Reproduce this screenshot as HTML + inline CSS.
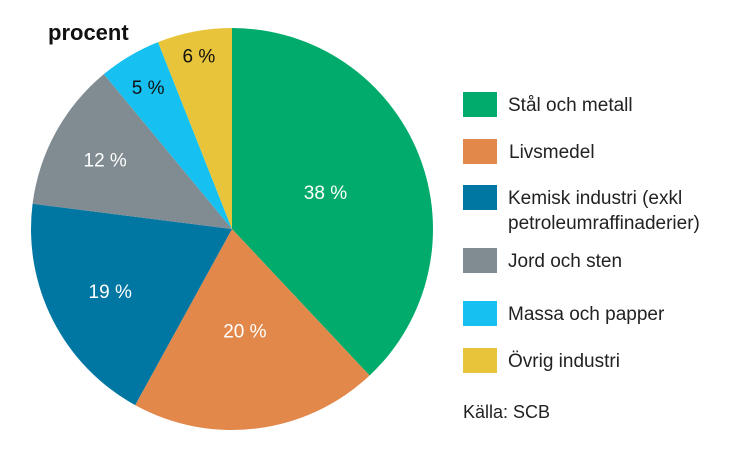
<!DOCTYPE html>
<html><head><meta charset="utf-8"><style>
body{margin:0;background:#fff;width:750px;height:453px;overflow:hidden;font-family:"Liberation Sans",Arial,sans-serif}
svg{display:block}
</style></head><body>
<svg width="750" height="453">
<text x="48" y="40" font-size="22" font-weight="bold" fill="#111">procent</text>
<g id="slices"></g>
<g id="labels"></g>
<g id="legend"></g>
<text x="463" y="418" font-size="18" fill="#222">Källa: SCB</text>
</svg>
<script>
const categories=["Stål och metall","Livsmedel","Kemisk industri (exkl|petroleumraffinaderier)","Jord och sten","Massa och papper","Övrig industri"];
const values=[38,20,19,12,5,6];
const colors=["#00ab6b","#e1884a","#0076a3","#808b92","#16c0f0","#e8c43a"];
const labelColors=["#fff","#fff","#fff","#fff","#111","#111"];
const labelR=[0.5,0.51,0.68,0.72,0.82,0.88];
const legendY=[104,151,197,260,313,360];
const cx=232,cy=229,R=201;
const ns="http://www.w3.org/2000/svg";
const total=values.reduce((a,b)=>a+b,0);
function pt(frac,r){const a=frac*2*Math.PI;return [cx+r*Math.sin(a),cy-r*Math.cos(a)];}
let acc=0;
const sg=document.getElementById('slices'),lg=document.getElementById('labels'),leg=document.getElementById('legend');
values.forEach((v,i)=>{
  const f0=acc/total,f1=(acc+v)/total;acc+=v;
  const [x0,y0]=pt(f0,R),[x1,y1]=pt(f1,R);
  const p=document.createElementNS(ns,'path');
  p.setAttribute('d',`M${cx},${cy}L${x0},${y0}A${R},${R} 0 ${f1-f0>0.5?1:0} 1 ${x1},${y1}Z`);
  p.setAttribute('fill',colors[i]);
  
  
  sg.appendChild(p);
  const [lx,ly]=pt((f0+f1)/2,R*labelR[i]);
  const t=document.createElementNS(ns,'text');
  t.setAttribute('x',lx);t.setAttribute('y',ly+7);
  t.setAttribute('text-anchor','middle');t.setAttribute('font-size','19');
  t.setAttribute('fill',labelColors[i]);
  
  
  t.textContent=v+' %';
  lg.appendChild(t);
  const r=document.createElementNS(ns,'rect');
  r.setAttribute('x',463);r.setAttribute('y',legendY[i]-12);r.setAttribute('width',34);r.setAttribute('height',25);
  r.setAttribute('fill',colors[i]);
  
  
  leg.appendChild(r);
  const lines=categories[i].split('|');
  lines.forEach((s,j)=>{
    const lt=document.createElementNS(ns,'text');
    lt.setAttribute('x',i==1?509:508);lt.setAttribute('y',legendY[i]+7+j*25);
    lt.setAttribute('font-size','19');lt.setAttribute('fill','#222');
    
    
    lt.textContent=s;
    leg.appendChild(lt);
  });
});
</script>
</body></html>
